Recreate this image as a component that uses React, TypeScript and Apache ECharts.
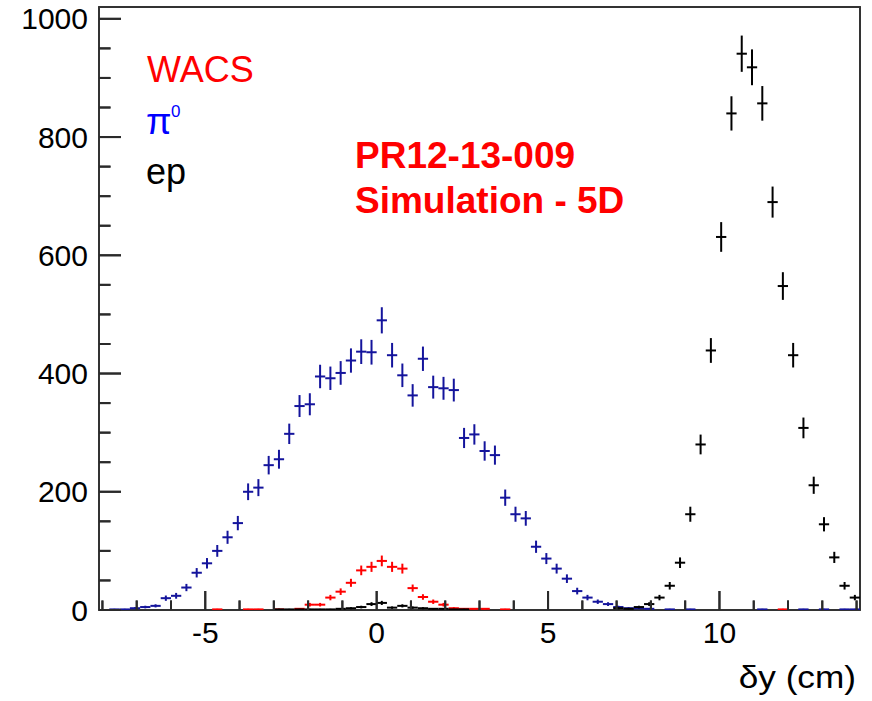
import React, { useEffect, useRef } from "react";
import * as echarts from "echarts";

// Histogram binning (bin width 0.3, first visible bin centre -7.95)
const BIN_WIDTH = 0.3;
const FIRST_BIN_CENTER = -7.95;
const X_MIN = -8.1;
const X_MAX = 14.1;
const Y_MIN = 0;
const Y_MAX = 1020;

// Counts per bin (74 bins, centres -7.95 ... 13.95)
const PI0_COUNTS = [
  0, 1, 1, 3, 5, 7, 20, 24, 38, 63,
  79, 100, 123, 147, 200, 207, 245, 255, 298, 345,
  348, 395, 392, 401, 422, 437, 436, 490, 431, 397,
  363, 425, 377, 375, 372, 291, 297, 269, 262, 190,
  162, 155, 107, 87, 70, 53, 32, 21, 14, 10,
  5, 3, 3, 2, 0, 1, 0, 1, 0, 0,
  0, 0, 0, 0, 1, 0, 0, 0, 1, 0,
  1, 0, 1, 1,
];

const WACS_COUNTS = [
  0, 0, 0, 0, 0, 0, 0, 0, 0, 0,
  0, 1, 0, 0, 1, 1, 0, 1, 0, 2,
  9, 9, 21, 31, 46, 67, 73, 83, 73, 70,
  37, 22, 14, 9, 3, 2, 2, 2, 0, 1,
  0, 0, 0, 0, 0, 0, 0, 0, 0, 0,
  0, 0, 0, 0, 0, 0, 0, 0, 0, 0,
  0, 0, 0, 0, 0, 0, 1, 0, 0, 0,
  0, 0, 0, 0,
];

const EP_COUNTS = [
  0, 0, 0, 0, 0, 0, 0, 0, 0, 0,
  0, 0, 0, 0, 0, 0, 0, 1, 1, 1,
  1, 1, 1, 2, 3, 5, 10, 12, 4, 7,
  4, 3, 2, 2, 1, 1, 0, 0, 0, 0,
  0, 0, 0, 0, 0, 0, 0, 0, 0, 0,
  3, 2, 5, 10, 21, 41, 80, 162, 280, 439,
  631, 840, 941, 918, 857, 690, 548, 431, 308, 211,
  145, 89, 41, 21,
];

const X_MAJOR_TICKS = [-5, 0, 5, 10];
const X_MINOR_TICKS = [-8, -7, -6, -4, -3, -2, -1, 1, 2, 3, 4, 6, 7, 8, 9, 11, 12, 13, 14];
const Y_MAJOR_TICKS = [0, 200, 400, 600, 800, 1000];
const Y_MINOR_TICKS = [50, 100, 150, 250, 300, 350, 450, 500, 550, 650, 700, 750, 850, 900, 950];

const COLOR_PI0 = "#14149c";
const COLOR_WACS = "#ff0000";
const COLOR_EP = "#000000";
const TICK_COLOR = "#2a2a2a";
const FONT = "'Liberation Sans', Arial, Helvetica, sans-serif";

export default function App() {
  const ref = useRef<HTMLDivElement>(null);

  useEffect(() => {
    if (!ref.current) return;
    const chart = echarts.init(ref.current, null, { renderer: "svg" });

    const makeData = (counts: number[]) =>
      counts
        .map((n, i) => [FIRST_BIN_CENTER + i * BIN_WIDTH, n, Math.sqrt(n)])
        .filter((d) => d[1] > 0);

    const crossRenderer = (color: string) => (params: any, api: any) => {
      const x = api.value(0);
      const y = api.value(1);
      const e = api.value(2);
      const c = api.coord([x, y]);
      const top = api.coord([x, Math.min(Y_MAX, y + e)]);
      const bottom = api.coord([x, Math.max(Y_MIN, y - e)]);
      const left = api.coord([x - BIN_WIDTH / 2, y]);
      const right = api.coord([x + BIN_WIDTH / 2, y]);
      const style = { stroke: color, lineWidth: 2 };
      return {
        type: "group",
        children: [
          { type: "line", shape: { x1: c[0], y1: top[1], x2: c[0], y2: bottom[1] }, style },
          { type: "line", shape: { x1: left[0], y1: c[1], x2: right[0], y2: c[1] }, style },
        ],
      };
    };

    // Tick marks as small filled rectangles (scatter symbols) anchored on the frame
    const xTickSeries = (name: string, ticks: number[], len: number) => ({
      type: "scatter",
      name,
      xAxisIndex: 0,
      yAxisIndex: 0,
      clip: false,
      silent: true,
      z: 6,
      symbol: "rect",
      symbolSize: [2, len],
      symbolOffset: [0, -len / 2],
      itemStyle: { color: TICK_COLOR, opacity: 1 },
      emphasis: { disabled: true },
      data: ticks.map((v) => [v, Y_MIN]),
    });
    const yTickSeries = (name: string, ticks: number[], len: number) => ({
      type: "scatter",
      name,
      xAxisIndex: 0,
      yAxisIndex: 0,
      clip: false,
      silent: true,
      z: 6,
      symbol: "rect",
      symbolSize: [len, 2],
      symbolOffset: [len / 2, 0],
      itemStyle: { color: TICK_COLOR, opacity: 1 },
      emphasis: { disabled: true },
      data: ticks.map((v) => [X_MIN, v]),
    });

    const frameLine = { show: true, onZero: false, lineStyle: { color: "#333", width: 2 } };
    const plainNumber = (v: number) => String(v);
    const textStyle = (font: string, fill: string, align = "left") => ({
      font,
      fill,
      textAlign: align,
      align,
      textVerticalAlign: "middle",
      verticalAlign: "middle",
    });

    const baseX = { type: "value", gridIndex: 0, min: X_MIN, max: X_MAX, splitLine: { show: false }, axisTick: { show: false } };
    const baseY = { type: "value", gridIndex: 0, min: Y_MIN, max: Y_MAX, splitLine: { show: false }, axisTick: { show: false } };

    const textGraphics: any[] = [
      { id: "t-wacs", type: "text", x: 147, y: 69.5, style: { text: "WACS", ...textStyle(`36px ${FONT}`, COLOR_WACS) } },
      { id: "t-pi", type: "text", x: 146, y: 121, style: { text: "π", ...textStyle(`37px ${FONT}`, "#0000ff") } },
      { id: "t-pi0", type: "text", x: 171, y: 111, style: { text: "0", ...textStyle(`17px ${FONT}`, "#0000ff") } },
      { id: "t-ep", type: "text", x: 146, y: 171, style: { text: "ep", ...textStyle(`36px ${FONT}`, "#000") } },
      { id: "t-pr", type: "text", x: 355, y: 155, style: { text: "PR12-13-009", ...textStyle(`bold 37px ${FONT}`, "#ff0000") } },
      { id: "t-sim", type: "text", x: 355, y: 200.5, style: { text: "Simulation - 5D", ...textStyle(`bold 37px ${FONT}`, "#ff0000") } },
      {
        id: "t-xtitle",
        type: "text",
        x: 856,
        y: 677,
        scaleX: 1.1,
        style: { text: "δy (cm)", ...textStyle(`32px ${FONT}`, "#000", "right") },
      },
    ];

    const option: any = {
      animation: false,
      backgroundColor: "#ffffff",
      grid: [{ left: 99, top: 7, right: 12, bottom: 91, show: false }],
      xAxis: [
        {
          ...baseX,
          position: "bottom",
          axisLine: frameLine,
          axisLabel: {
            show: true,
            customValues: X_MAJOR_TICKS,
            formatter: plainNumber,
            margin: 7,
            fontSize: 30,
            fontFamily: FONT,
            color: "#000",
          },
        },
        {
          ...baseX,
          position: "top",
          axisLine: frameLine,
          axisLabel: { show: false },
        },
      ],
      yAxis: [
        {
          ...baseY,
          position: "left",
          axisLine: frameLine,
          axisLabel: {
            show: true,
            customValues: Y_MAJOR_TICKS,
            formatter: plainNumber,
            margin: 11,
            fontSize: 30,
            fontFamily: FONT,
            color: "#000",
          },
        },
        {
          ...baseY,
          position: "right",
          axisLine: frameLine,
          axisLabel: { show: false },
        },
      ],
      series: [
        {
          type: "custom",
          name: "pi0",
          xAxisIndex: 0,
          yAxisIndex: 0,
          clip: true,
          renderItem: crossRenderer(COLOR_PI0),
          data: makeData(PI0_COUNTS),
        },
        {
          type: "custom",
          name: "WACS",
          xAxisIndex: 0,
          yAxisIndex: 0,
          clip: true,
          renderItem: crossRenderer(COLOR_WACS),
          data: makeData(WACS_COUNTS),
        },
        {
          type: "custom",
          name: "ep",
          xAxisIndex: 0,
          yAxisIndex: 0,
          clip: true,
          renderItem: crossRenderer(COLOR_EP),
          data: makeData(EP_COUNTS),
        },
        xTickSeries("x-major", X_MAJOR_TICKS, 19),
        xTickSeries("x-minor", X_MINOR_TICKS, 9.5),
        yTickSeries("y-major", Y_MAJOR_TICKS, 22),
        yTickSeries("y-minor", Y_MINOR_TICKS, 11.5),
      ],
      graphic: textGraphics,
    };

    chart.setOption(option);

    // Second layer of tick marks placed through the grid's own pixel conversion
    const tickRects: any[] = [];
    const addX = (v: number, len: number, k: string) => {
      const p = chart.convertToPixel({ gridIndex: 0 }, [v, Y_MIN]) as number[];
      if (!p || isNaN(p[0])) return;
      tickRects.push({ id: k, type: "rect", z: 20, shape: { x: p[0] - 1, y: p[1] - len, width: 2, height: len }, style: { fill: TICK_COLOR } });
    };
    const addY = (v: number, len: number, k: string) => {
      const p = chart.convertToPixel({ gridIndex: 0 }, [X_MIN, v]) as number[];
      if (!p || isNaN(p[1])) return;
      tickRects.push({ id: k, type: "rect", z: 20, shape: { x: p[0], y: p[1] - 1, width: len, height: 2 }, style: { fill: TICK_COLOR } });
    };
    X_MAJOR_TICKS.forEach((v, i) => addX(v, 19, `xM${i}`));
    X_MINOR_TICKS.forEach((v, i) => addX(v, 9.5, `xm${i}`));
    Y_MAJOR_TICKS.forEach((v, i) => addY(v, 22, `yM${i}`));
    Y_MINOR_TICKS.forEach((v, i) => addY(v, 11.5, `ym${i}`));
    chart.setOption({ graphic: [...textGraphics, ...tickRects] });

    return () => {
      chart.dispose();
    };
  }, []);

  return (
    <div
      ref={ref}
      style={{ position: "absolute", left: 0, top: 0, width: 872, height: 701, background: "#fff" }}
    />
  );
}
